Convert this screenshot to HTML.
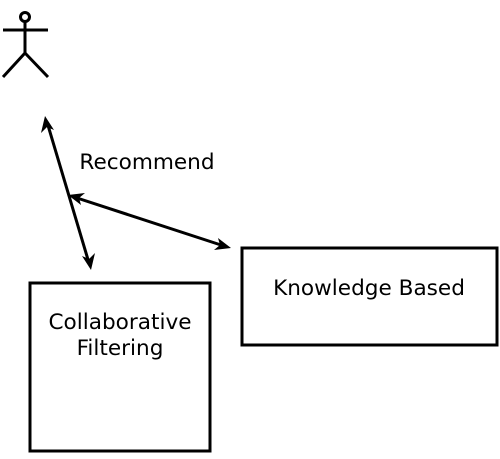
<!DOCTYPE html>
<html><head><style>body{margin:0;background:#fff}</style></head><body>
<svg width="500" height="454" xmlns="http://www.w3.org/2000/svg" font-family="DejaVu Sans, sans-serif">
<g stroke="#000" stroke-width="3" fill="none">
<circle cx="25" cy="17" r="4.5"/>
<line x1="3" y1="30" x2="48" y2="30"/>
<line x1="25" y1="21" x2="25" y2="53"/>
<line x1="25" y1="53" x2="3" y2="77"/>
<line x1="25" y1="53" x2="48" y2="77"/>
<rect x="30" y="283" width="180" height="168"/>
<rect x="242" y="248" width="255" height="97"/>
</g>
<g stroke="#000" stroke-width="3">
<line x1="47" y1="122" x2="89" y2="263"/>
<line x1="74" y1="197" x2="224" y2="246"/>
</g>
<path d="M45,116 L54,130 L47,127 L41,133 Z" fill="#000"/>
<path d="M91,270 L82,256 L89,259 L95,253 Z" fill="#000"/>
<path d="M68,195 L85,193 L79,198 L81,205 Z" fill="#000"/>
<path d="M231,248 L214,250 L220,245 L218,238 Z" fill="#000"/>
<g font-size="21.6" fill="#000" text-anchor="middle">
<text x="147" y="169">Recommend</text>
<text x="369" y="295">Knowledge Based</text>
<text x="120" y="329">Collaborative</text>
<text x="120" y="355">Filtering</text>
</g>
</svg>
</body></html>
